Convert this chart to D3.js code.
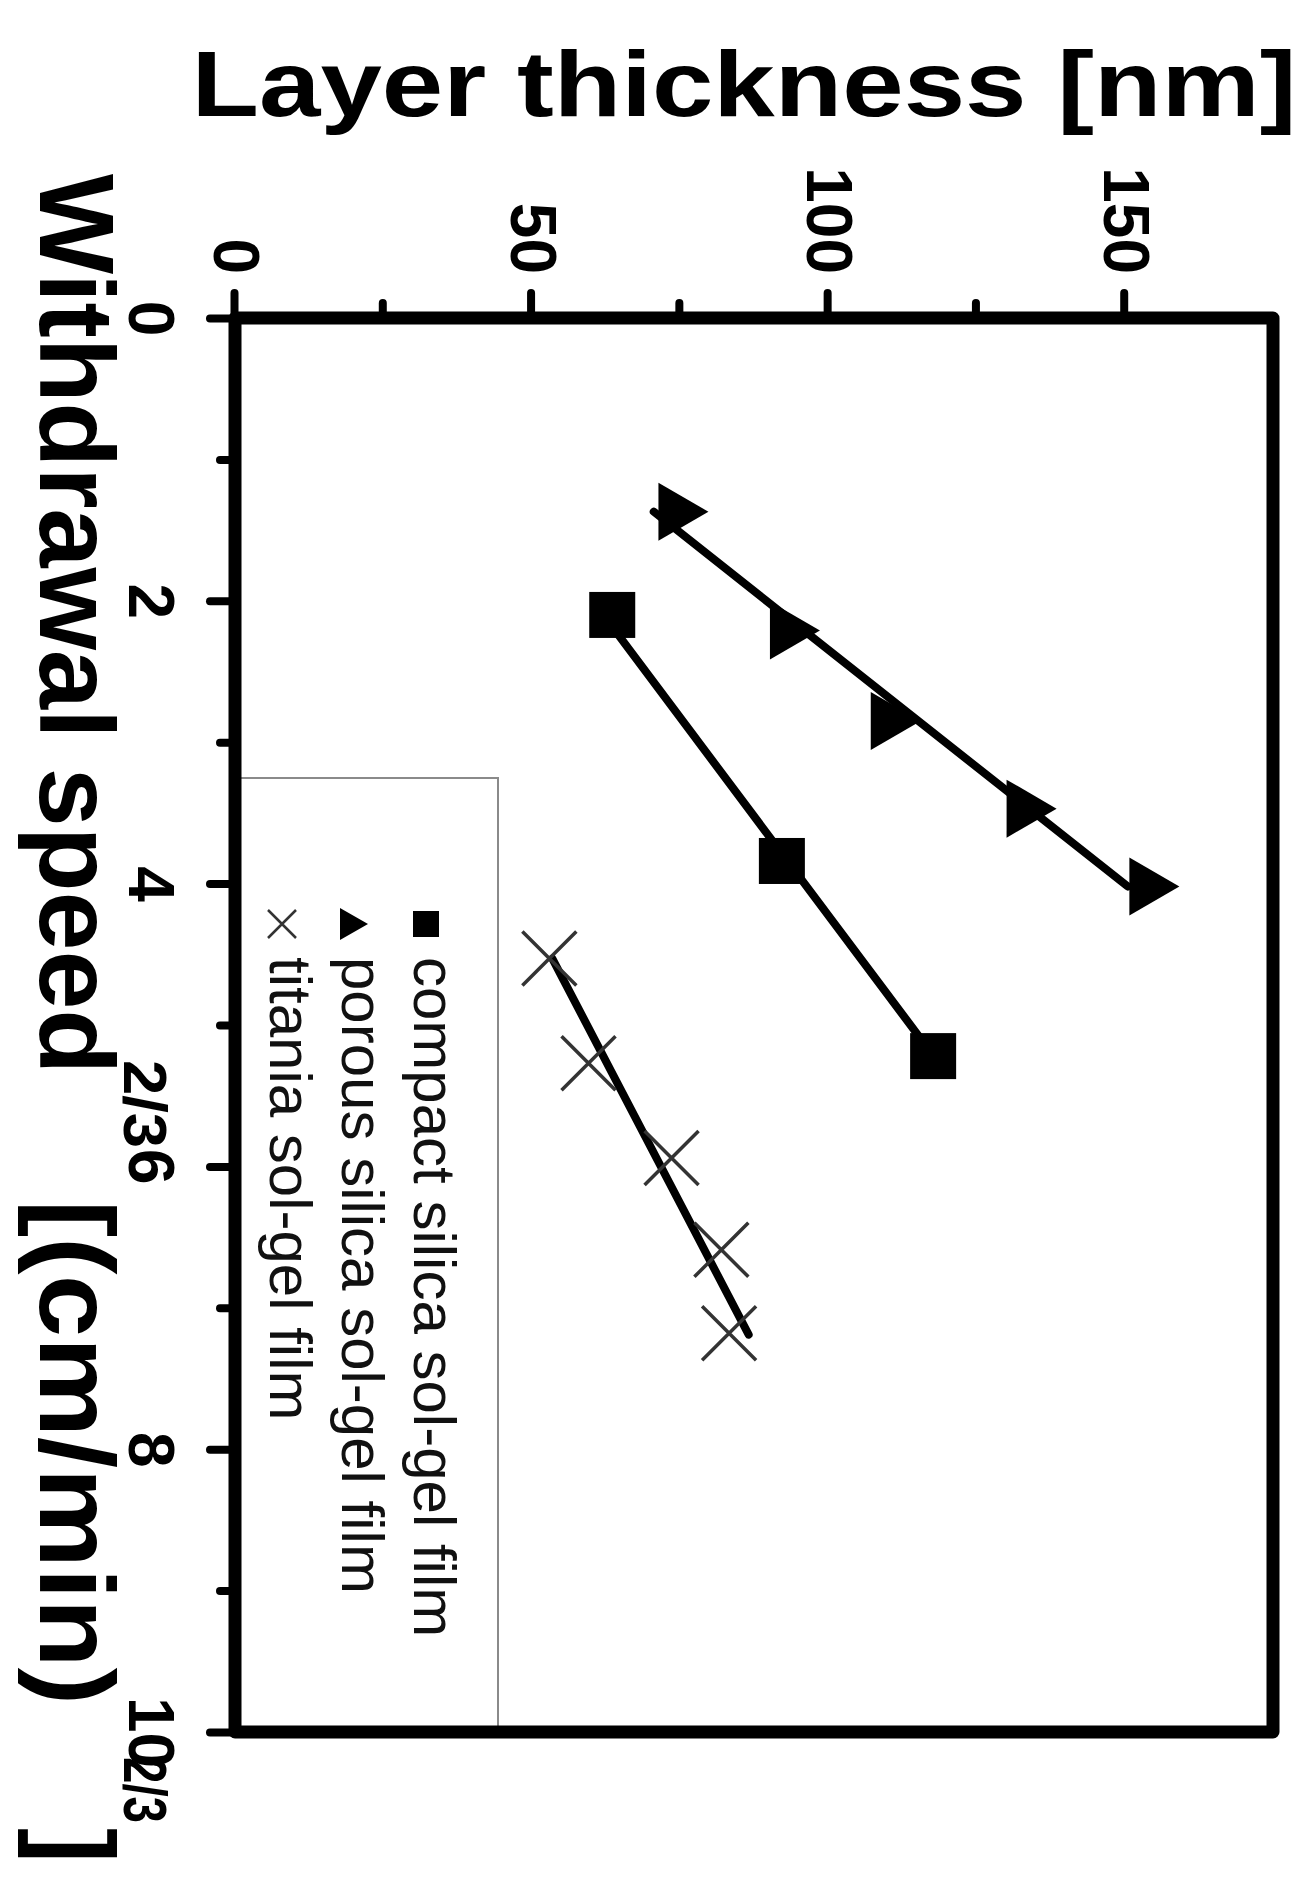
<!DOCTYPE html>
<html><head><meta charset="utf-8">
<script src="https://cdn.jsdelivr.net/npm/d3@7"></script>
<style>body{margin:0;background:#fff}</style>
</head><body>
<svg id="c" width="1305" height="1883"></svg>
<script>
// ---- data (original orientation: x = withdrawal speed^(2/3), y = layer thickness) ----
const speedMajorTicks = [0, 2, 4, 6, 8, 10];
const speedMinorTicks = [1, 3, 5, 7, 9];
const thickMajorTicks = [0, 50, 100, 150];
const thickMinorTicks = [25, 75, 125];

const seriesNames = ["compact silica sol-gel film", "porous silica sol-gel film", "titania sol-gel film"];

const compactSpeed = [2.10, 3.84, 5.22];
const compactThick = [63.6, 92.2, 117.7];
const porousSpeed  = [1.37, 2.21, 2.85, 3.47, 4.02];
const porousThick  = [75.6, 94.4, 111.4, 134.3, 155.0];
const titaniaSpeed = [4.53, 5.27, 5.94, 6.59, 7.18];
const titaniaThick = [53.0, 59.6, 73.6, 82.0, 83.3];

// linear fit lines as drawn (end points)
const compactFitSpeed = [2.10, 5.22];
const compactFitThick = [62.1, 117.8];
const porousFitSpeed  = [1.37, 4.02];
const porousFitThick  = [70.6, 150.5];
const titaniaFitSpeed = [4.53, 7.19];
const titaniaFitThick = [53.5, 86.6];

// ---- layout (original, unrotated frame; whole chart rotated 90deg clockwise) ----
const svg = d3.select("#c");
const g = svg.append("g").attr("transform", "translate(1305,0) rotate(90)");

const x = d3.scaleLinear().domain([0, 10]).range([318, 1732]);
const y = d3.scaleLinear().domain([0, 175]).range([1070, 32]);
const FONT = "'Liberation Sans', Arial, Helvetica, sans-serif";

// legend box (drawn first so frame lines sit on top)
const leg = g.append("g");
leg.append("rect")
  .attr("x", 778).attr("y", 807)
  .attr("width", x(10) - 778).attr("height", y(0) - 807)
  .attr("fill", "#fff").attr("stroke", "#8a8a8a").attr("stroke-width", 2);

// fit lines
const lineGen = d3.line().x(d => x(d[0])).y(d => y(d[1]));
function fit(sp, th) { return sp.map((s, i) => [s, th[i]]); }
[[compactFitSpeed, compactFitThick], [porousFitSpeed, porousFitThick], [titaniaFitSpeed, titaniaFitThick]]
  .forEach(([sp, th]) => {
    g.append("path").attr("d", lineGen(fit(sp, th)))
      .attr("fill", "none").attr("stroke", "#000").attr("stroke-width", 8).attr("stroke-linecap", "round");
  });

// markers
const sq = 46;
g.selectAll(".sq").data(fit(compactSpeed, compactThick)).join("rect")
  .attr("x", d => x(d[0]) - sq / 2).attr("y", d => y(d[1]) - sq / 2)
  .attr("width", sq).attr("height", sq).attr("fill", "#000");

const triW = 58, triH = 50;
const triPath = `M${-triW/2},${triH/2}L${triW/2},${triH/2}L0,${-triH/2}Z`;
g.selectAll(".tri").data(fit(porousSpeed, porousThick)).join("path")
  .attr("d", triPath).attr("transform", d => `translate(${x(d[0])},${y(d[1])})`).attr("fill", "#000");

const cr = 27;
const crossPath = r => `M${-r},${-r}L${r},${r}M${-r},${r}L${r},${-r}`;
g.selectAll(".cr").data(fit(titaniaSpeed, titaniaThick)).join("path")
  .attr("d", crossPath(cr)).attr("transform", d => `translate(${x(d[0])},${y(d[1])})`)
  .attr("fill", "none").attr("stroke", "#333").attr("stroke-width", 3.5);

// legend entries
const legU = 924, legText = 957, legV0 = 879, legStep = 72;
seriesNames.forEach((name, i) => {
  const v = legV0 + i * legStep;
  if (i === 0) leg.append("rect").attr("x", legU - 13).attr("y", v - 13).attr("width", 26).attr("height", 26).attr("fill", "#000");
  if (i === 1) leg.append("path").attr("d", "M-16,14L16,14L0,-14Z").attr("transform", `translate(${legU},${v})`).attr("fill", "#000");
  if (i === 2) leg.append("path").attr("d", crossPath(14)).attr("transform", `translate(${legU},${v})`).attr("stroke", "#333").attr("stroke-width", 2.5).attr("fill", "none");
  leg.append("text").attr("x", legText).attr("y", v + 12)
    .attr("font-family", FONT).attr("font-size", 60).attr("fill", "#111").text(name);
});

// frame
g.append("rect").attr("x", x(0)).attr("y", y(175)).attr("width", x(10) - x(0)).attr("height", y(0) - y(175))
  .attr("fill", "none").attr("stroke", "#000").attr("stroke-width", 13).attr("stroke-linejoin", "round");

// axes
function styleAxis(sel, fs) {
  sel.select(".domain").remove();
  sel.selectAll(".tick line").attr("stroke", "#000").attr("stroke-width", 8).attr("stroke-linecap", "round");
  sel.selectAll("text").attr("font-family", FONT).attr("font-weight", "bold").attr("font-size", fs).attr("fill", "#000");
}
const TICKFS = 64;
const xAx = g.append("g").attr("transform", `translate(0,${y(0)})`)
  .call(d3.axisBottom(x).tickValues(speedMajorTicks).tickSize(25).tickPadding(36).tickFormat(d3.format("d")));
styleAxis(xAx, TICKFS);
const xAxm = g.append("g").attr("transform", `translate(0,${y(0)})`)
  .call(d3.axisBottom(x).tickValues(speedMinorTicks).tickSize(15).tickFormat(""));
styleAxis(xAxm, TICKFS);
const yAx = g.append("g").attr("transform", `translate(${x(0)},0)`)
  .call(d3.axisLeft(y).tickValues(thickMajorTicks).tickSize(25).tickPadding(19).tickFormat(d3.format("d")));
styleAxis(yAx, TICKFS);
const yAxm = g.append("g").attr("transform", `translate(${x(0)},0)`)
  .call(d3.axisLeft(y).tickValues(thickMinorTicks).tickSize(15).tickFormat(""));
styleAxis(yAxm, TICKFS);

// axis titles
const xt = g.append("text").attr("y", 1265)
  .attr("font-family", FONT).attr("font-weight", "bold").attr("font-size", 106).attr("fill", "#000");
xt.append("tspan").attr("x", 174).text("Withdrawal speed");
xt.append("tspan").attr("x", 1060).attr("dy", -84).attr("font-size", 62)
  .attr("textLength", 88).attr("lengthAdjust", "spacingAndGlyphs").text("2/3");
xt.append("tspan").attr("x", 1200).attr("dy", 84)
  .attr("textLength", 505).attr("lengthAdjust", "spacingAndGlyphs").text("[(cm/min)");
xt.append("tspan").attr("x", 1757).attr("dy", -84).attr("font-size", 62)
  .attr("textLength", 66).attr("lengthAdjust", "spacingAndGlyphs").text("2/3");
xt.append("tspan").attr("x", 1828).attr("dy", 84).text("]");

g.append("text").attr("transform", `translate(116,${1305 - 744}) rotate(-90)`)
  .attr("text-anchor", "middle")
  .attr("font-family", FONT).attr("font-weight", "bold").attr("font-size", 92).attr("fill", "#000")
  .attr("textLength", 1105).attr("lengthAdjust", "spacingAndGlyphs")
  .text("Layer thickness [nm]");
</script>
</body></html>
